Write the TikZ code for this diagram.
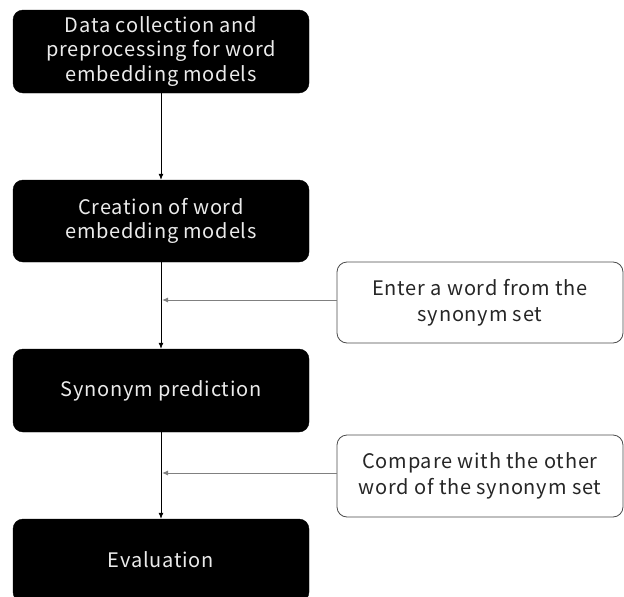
\documentclass[tikz,border=0pt]{standalone}
\usepackage{fontspec}
\setmainfont[LetterSpace=4]{Noto Sans CJK JP}
\usetikzlibrary{arrows.meta}
\begin{document}
\begin{tikzpicture}[x=1pt,y=-1pt,
  blackbox/.style={draw=black,fill=black,rounded corners=10pt,text=black!8,minimum width=296pt,align=center,inner sep=0pt,font=\fontsize{20}{24.5}\selectfont},
  whitebox/.style={draw=black!70,line width=0.8pt,fill=white,rounded corners=10pt,text=black!85,minimum width=286pt,align=center,inner sep=0pt,font=\fontsize{20}{26}\selectfont},
  mainarrow/.style={draw=black,line width=0.8pt,-{Latex[length=6pt,width=5pt]}},
  sidearrow/.style={draw=black!50,line width=1pt,-{Latex[length=6pt,width=5pt]}}]
\useasboundingbox (0,0) rectangle (624,597);
\node[blackbox,minimum height=83pt] (b1) at (161,51.5) {Data collection and\\preprocessing for word\\embedding models};
\node[blackbox,minimum height=82pt] (b2) at (161,221) {Creation of word\\embedding models};
\node[blackbox,minimum height=83pt] (b3) at (161,390.5) {Synonym prediction};
\node[blackbox,minimum height=83pt,text height=14pt] (b4) at (161,560.5) {Evaluation};
\node[whitebox,minimum height=81pt] (w1) at (480,302.5) {Enter a word from the\\synonym set};
\node[whitebox,minimum height=82pt] (w2) at (480,476) {Compare with the other\\word of the synonym set};
\draw[mainarrow] (b1) -- (b2);
\draw[mainarrow] (b2) -- (b3);
\draw[mainarrow] (b3) -- (b4);
\coordinate (c1) at (b2.south |- 0,300);
\coordinate (c2) at (b3.south |- 0,473);
\draw[sidearrow] (w1.west |- c1) -- ([xshift=1pt]c1);
\draw[sidearrow] (w2.west |- c2) -- ([xshift=1pt]c2);
\end{tikzpicture}
\end{document}
